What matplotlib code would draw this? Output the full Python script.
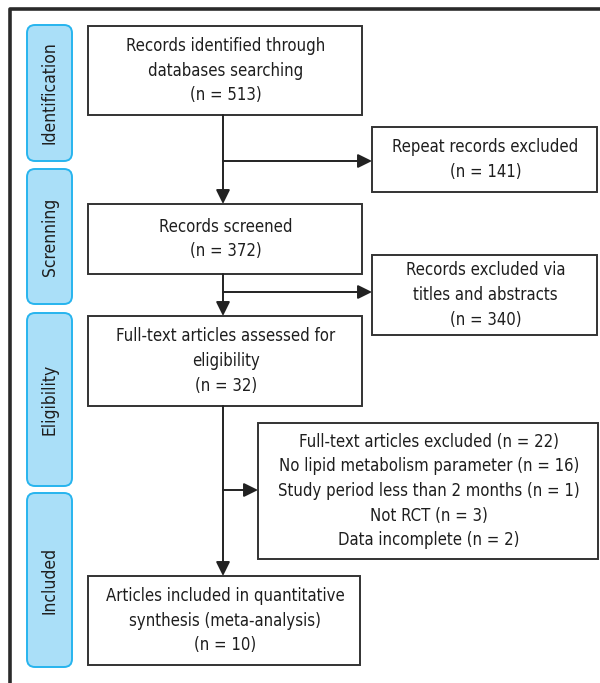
import matplotlib
matplotlib.use("Agg")
import matplotlib.pyplot as plt
from matplotlib.patches import Rectangle, FancyBboxPatch

plt.rcParams['font.family'] = ['DejaVu Sans']
plt.rcParams['font.stretch'] = 'condensed'

# ==========================================
# 流程图文字
stages = ["Identification", "Screnning", "Eligibility", "Included"]
main_texts = [
    "Records identified through\ndatabases searching\n(n = 513)",
    "Records screened\n(n = 372)",
    "Full-text articles assessed for\neligibility\n(n = 32)",
    "Articles included in quantitative\nsynthesis (meta-analysis)\n(n = 10)",
]
side_texts = [
    "Repeat records excluded\n(n = 141)",
    "Records excluded via\ntitles and abstracts\n(n = 340)",
    "Full-text articles excluded (n = 22)\nNo lipid metabolism parameter (n = 16)\n"
    "Study period less than 2 months (n = 1)\nNot RCT (n = 3)\nData incomplete (n = 2)",
]

# ==========================================
# 布局 (像素坐标, y 向下)
stage_y = [(25, 161), (169, 304), (313, 486), (493, 667)]
main_box = [(88, 26, 362, 115), (88, 204, 362, 274), (88, 316, 362, 406), (88, 576, 360, 665)]
side_box = [(372, 127, 597, 192), (372, 255, 597, 335), (258, 423, 598, 559)]
branch_y = [161, 292, 490]
cx = 223
EDGE = '#333333'
TXT = '#1e1e1e'


def drawBox(ax, b, text, fs=12):
    x0, y0, x1, y1 = b
    ax.add_patch(Rectangle((x0, y0), x1 - x0, y1 - y0, fill=False, ec=EDGE, lw=1.4))
    ax.text((x0 + x1) / 2 + 1, (y0 + y1) / 2, text, ha='center', va='center',
            fontsize=fs, color=TXT, linespacing=1.48)


def drawArrow(ax, x0, y0, x1, y1):
    ax.annotate('', xy=(x1, y1), xytext=(x0, y0),
                arrowprops=dict(arrowstyle='-|>,head_length=0.85,head_width=0.42',
                                color='#222222', lw=1.4, shrinkA=0, shrinkB=0))


if __name__ == "__main__":
    fig = plt.figure(figsize=(6.0, 6.83), dpi=100)
    ax = fig.add_axes([0, 0, 1, 1])
    ax.set_xlim(0, 600)
    ax.set_ylim(683, 0)
    ax.axis('off')

    # 外框
    ax.plot([10, 10, 605], [690, 9, 9], color='#2a2a2a', lw=2.6, solid_capstyle='projecting')

    # 阶段标签
    for name, (ya, yb) in zip(stages, stage_y):
        ax.add_patch(FancyBboxPatch((27, ya), 45, yb - ya,
                                    boxstyle='round,pad=0,rounding_size=8',
                                    fc='#aadff8', ec='#27b4ee', lw=1.4))
        ax.text(50, (ya + yb) / 2, name, rotation=90, ha='center', va='center',
                fontsize=12.5, color=TXT)

    for b, t in zip(main_box, main_texts):
        drawBox(ax, b, t)
    for b, t in zip(side_box, side_texts):
        drawBox(ax, b, t)

    # 箭头
    for i in range(3):
        drawArrow(ax, cx, main_box[i][3], cx, main_box[i + 1][1])
        drawArrow(ax, cx, branch_y[i], side_box[i][0], branch_y[i])

    fig.savefig("out.png", dpi=100)
